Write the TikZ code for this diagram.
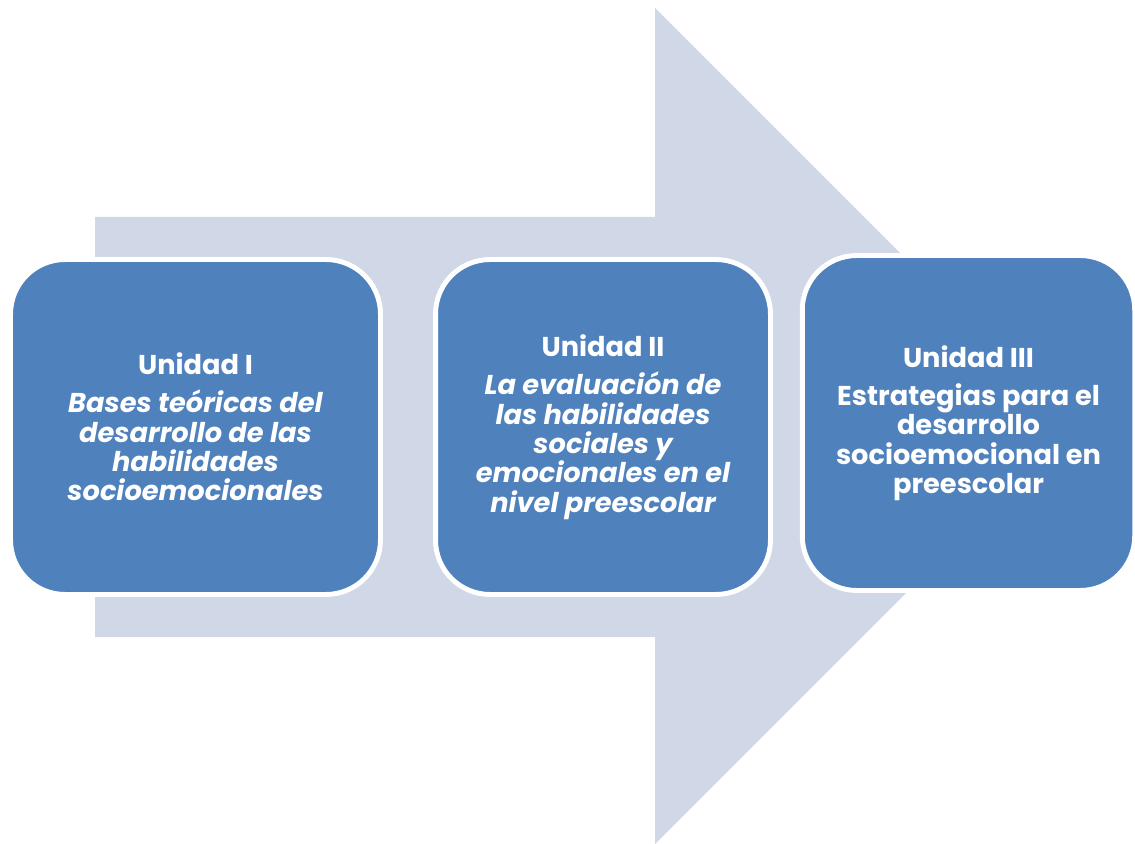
\documentclass[tikz,border=0pt]{standalone}
\usepackage{fontspec}
\setmainfont{Poppins}
\usepackage{tikz}
\definecolor{arrowbg}{RGB}{208,216,231}
\definecolor{unitblue}{RGB}{79,129,189}

\begin{document}
\begin{tikzpicture}[x=0.02cm, y=-0.02cm]
    \tikzset{ unit/.style={draw=white, line width=2.8pt, rounded corners=31pt, fill=unitblue, text=white, align=center, inner sep=0pt, minimum height=6.7cm, font=\bfseries\fontsize{15.5}{16.7}\selectfont } }

    \useasboundingbox (0,0) rectangle (1135,844);

    \fill[arrowbg] (95,217) -- (655,217) -- (655,8) -- (1073,426) -- (655,844) -- (655,637) -- (95,637) -- cycle;

    \node[unit, minimum width=7.4cm] (u1) at (195.5,427) {Unidad I\\[5pt]\itshape Bases teóricas del\\\itshape desarrollo de las\\\itshape habilidades\\\itshape socioemocionales};
    \node[unit, minimum width=6.7cm] (u2) at (603,427) {Unidad II\\[5pt]\itshape La evaluación de\\\itshape las habilidades\\\itshape sociales y\\\itshape emocionales en el\\\itshape nivel preescolar};
    \node[unit, minimum width=6.65cm] (u3) at (968.5,423) {Unidad III\\[5pt]Estrategias para el\\desarrollo\\socioemocional en\\preescolar};
\end{tikzpicture}
\end{document}
